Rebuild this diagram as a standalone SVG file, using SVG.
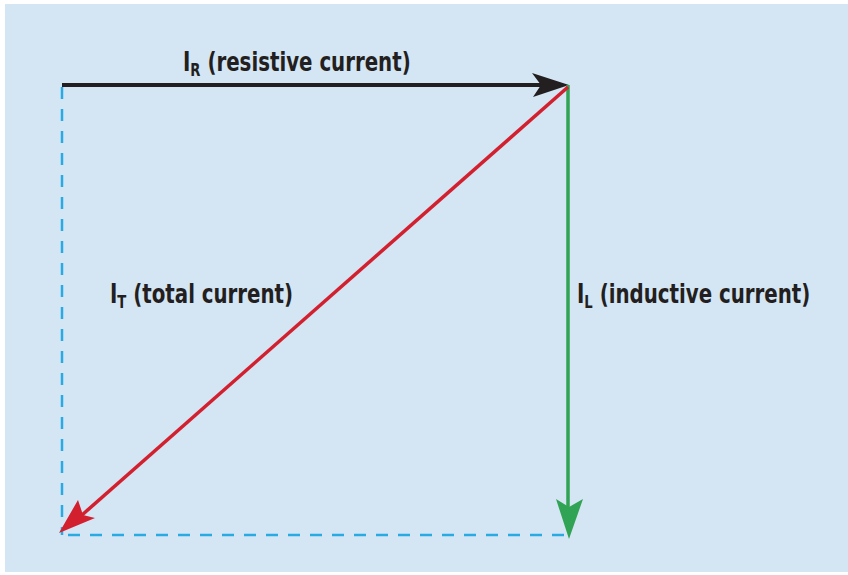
<svg xmlns="http://www.w3.org/2000/svg" width="848" height="575" viewBox="0 0 848 575">
<style>
.lbl{font-family:"DejaVu Sans Condensed","DejaVu Sans",sans-serif;font-weight:bold;font-size:27px;fill:#231f20;font-stretch:condensed}
.sub{font-size:18px}
.dash{stroke:#29abe2;stroke-width:2.5;stroke-dasharray:12 10;fill:none}
</style>
<rect x="0" y="0" width="848" height="575" fill="#ffffff"/>
<rect x="5" y="4" width="843" height="568" fill="#d4e5f4"/>
<g id="connectors">
<line class="dash" x1="62" y1="87" x2="62" y2="535"/>
<line class="dash" x1="68" y1="535" x2="568" y2="535"/>
<g id="IR-arrow">
<line x1="62" y1="85" x2="545" y2="85" stroke="#231f20" stroke-width="4"/>
<path d="M569,85 L532,73 L541,85 L533,97 Z" fill="#231f20"/>
</g>
<g id="IL-arrow">
<line x1="568" y1="85" x2="568" y2="510" stroke="#31a354" stroke-width="3.5"/>
<path d="M569,539 L556,499 L569,507 L583,499 Z" fill="#31a354"/>
</g>
<g id="IT-arrow">
<line x1="568" y1="87" x2="82" y2="515" stroke="#d2202f" stroke-width="3.5"/>
<path d="M59,533 L78,500 L83,515 L95,518 Z" fill="#d2202f"/>
</g>
</g>
<g id="label-IR"><text class="lbl" transform="translate(183,71) scale(0.815,1)">I<tspan class="sub" dy="5">R</tspan><tspan dy="-5"> (resistive current)</tspan></text></g>
<g id="label-IT"><text class="lbl" transform="translate(110,303) scale(0.815,1)">I<tspan class="sub" dy="5">T</tspan><tspan dy="-5"> (total current)</tspan></text></g>
<g id="label-IL"><text class="lbl" transform="translate(577,303) scale(0.815,1)">I<tspan class="sub" dy="5">L</tspan><tspan dy="-5"> (inductive current)</tspan></text></g>
</svg>
